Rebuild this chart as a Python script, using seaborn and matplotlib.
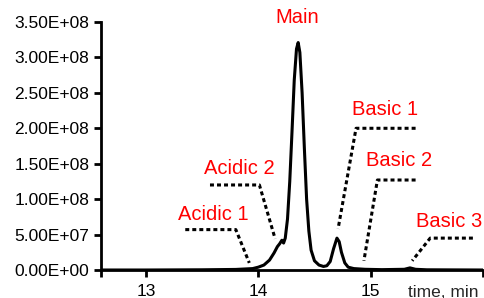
import numpy as np
import pandas as pd
import matplotlib
matplotlib.use("Agg")
import matplotlib.pyplot as plt
import seaborn as sns
from matplotlib.ticker import FuncFormatter

# chromatogram (time in min, signal in counts)
time_min = [12.60, 13.00, 13.50, 13.80, 13.95, 14.00, 14.05, 14.10, 14.14, 14.17,
            14.19, 14.21, 14.225, 14.24, 14.26, 14.28, 14.30, 14.32, 14.34, 14.355,
            14.37, 14.39, 14.41, 14.43, 14.45, 14.47, 14.50, 14.54, 14.58, 14.61,
            14.64, 14.67, 14.70, 14.72, 14.74, 14.77, 14.80, 14.85, 14.95, 15.10,
            15.30, 15.35, 15.40, 15.50, 16.00]
signal_e8 = [0.0, 0.0, 0.003, 0.008, 0.02, 0.04, 0.07, 0.14, 0.24, 0.33,
             0.37, 0.42, 0.38, 0.45, 0.72, 1.25, 1.95, 2.68, 3.12, 3.21,
             3.07, 2.50, 1.72, 1.00, 0.55, 0.28, 0.13, 0.07, 0.05, 0.06,
             0.12, 0.30, 0.45, 0.40, 0.25, 0.10, 0.04, 0.02, 0.01, 0.005,
             0.01, 0.03, 0.01, 0.003, 0.0]

# peak labels: text position and leader line (x, y in data units, y in 1e8)
labels = ["Acidic 1", "Acidic 2", "Main", "Basic 1", "Basic 2", "Basic 3"]
label_x = [13.60, 13.83, 14.35, 15.13, 15.25, 15.70]
label_y = [0.79, 1.43, 3.56, 2.26, 1.55, 0.68]
leader_x = [[13.35, 13.80, 13.92], [13.57, 14.01, 14.15], None,
            [15.40, 14.87, 14.71], [15.40, 15.06, 14.94], [15.91, 15.53, 15.37]]
leader_y = [[0.57, 0.57, 0.10], [1.20, 1.20, 0.44], None,
            [2.00, 2.00, 0.58], [1.27, 1.27, 0.13], [0.45, 0.45, 0.13]]

df = pd.DataFrame({"time": time_min, "signal": np.array(signal_e8) * 1e8})

sns.set_style("ticks")
plt.rcParams["font.family"] = ["Liberation Sans", "DejaVu Sans"]

fig = plt.figure(figsize=(4.85, 2.98), dpi=100)
ax = fig.add_axes([101 / 485, 1 - 270 / 298, 382 / 485, 248 / 298])

sns.lineplot(data=df, x="time", y="signal", ax=ax, color="black", lw=2.2)

for lab, tx, ty, lx, ly in zip(labels, label_x, label_y, leader_x, leader_y):
    ax.text(tx, ty * 1e8, lab, color="red", fontsize=14.5, ha="center", va="center",
            clip_on=False)
    if lx is not None:
        ax.plot(lx, np.array(ly) * 1e8, color="black", lw=2.2,
                linestyle=(0, (1.3, 1.0)), clip_on=False)

ax.set_xlim(12.6, 16.0)
ax.set_ylim(0, 3.5e8)
ax.set_xticks([12.6, 13, 14, 15, 16])
ax.set_xticklabels(["", "13", "14", "15", ""])
ax.set_yticks(np.arange(0, 3.51e8, 0.5e8))
ax.yaxis.set_major_formatter(FuncFormatter(lambda v, p: "{:.2E}".format(v)))
ax.set_xlabel("")
ax.set_ylabel("")
ax.text(15.65, -0.32e8, "time, min", fontsize=12.5, ha="center", va="center",
        clip_on=False)

for s in ["top", "right"]:
    ax.spines[s].set_visible(False)
for s in ["left", "bottom"]:
    ax.spines[s].set_linewidth(2)
    ax.spines[s].set_color("black")
ax.tick_params(axis="both", direction="out", width=2, length=5, labelsize=12.5,
               colors="black")
ax.tick_params(axis="x", pad=5)

fig.savefig("out.png", dpi=100)
